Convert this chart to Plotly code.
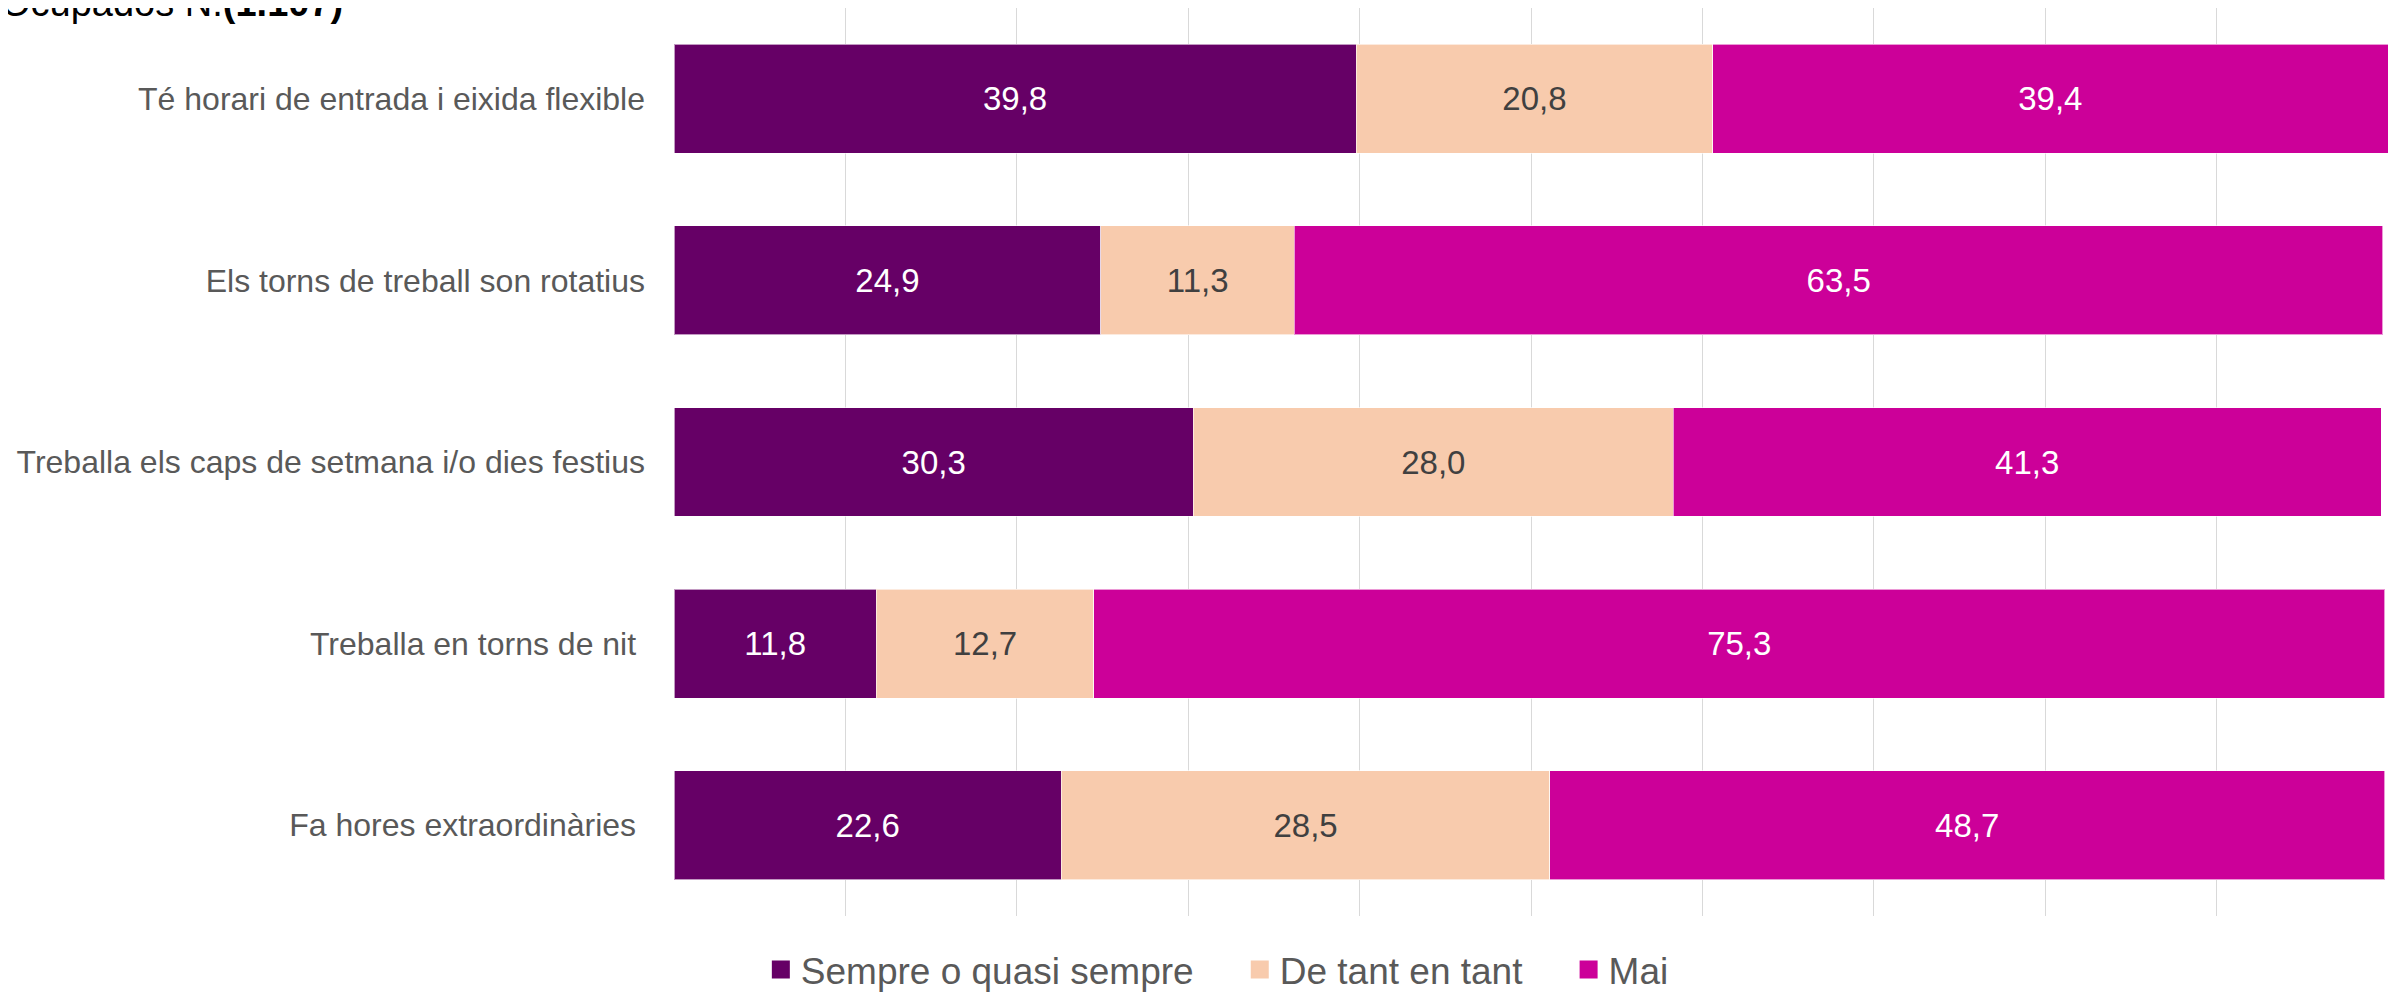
import plotly.graph_objects as go

categories = [
    "Té horari de entrada i eixida flexible",
    "Els torns de treball son rotatius",
    "Treballa els caps de setmana i/o dies festius",
    "Treballa en torns de nit\u00a0",
    "Fa hores extraordinàries\u00a0",
]
sempre = [39.8, 24.9, 30.3, 11.8, 22.6]
de_tant = [20.8, 11.3, 28.0, 12.7, 28.5]
mai = [39.4, 63.5, 41.3, 75.3, 48.7]

series = [
    ("Sempre o quasi sempre", sempre, "#660066", "white"),
    ("De tant en tant", de_tant, "#F8CBAD", "#404040"),
    ("Mai", mai, "#CC0099", "white"),
]

FONT = "Liberation Sans, Arial, sans-serif"
GAP = "\u00a0" * 4

fig = go.Figure()
for name, vals, color, txtcolor in series:
    fig.add_trace(
        go.Bar(
            y=categories,
            x=vals,
            name=name,
            orientation="h",
            showlegend=False,
            marker=dict(color=color, line=dict(color="rgba(255,255,255,0.6)", width=1)),
            text=[f"{v:.1f}".replace(".", ",") for v in vals],
            textposition="inside",
            insidetextanchor="middle",
            textangle=0,
            textfont=dict(color=txtcolor, size=33, family=FONT),
        )
    )

# legend entries with bigger square swatches
for i, (name, vals, color, txtcolor) in enumerate(series):
    fig.add_trace(
        go.Scatter(
            x=[None], y=[None],
            mode="markers",
            name=name + (GAP if i < len(series) - 1 else ""),
            marker=dict(symbol="square", size=16, color=color, line=dict(color=color, width=2)),
        )
    )

fig.add_annotation(
    text="Ocupados N.<b>(1.107)</b>",
    xref="paper", yref="paper",
    x=-0.394, y=1, xanchor="left", yanchor="bottom", yshift=-18,
    showarrow=False,
    font=dict(size=38, color="black", family=FONT),
)

fig.update_layout(
    width=2408,
    height=993,
    barmode="stack",
    bargap=0.4,
    plot_bgcolor="white",
    paper_bgcolor="white",
    font=dict(family=FONT, size=32, color="#595959"),
    margin=dict(l=666, r=28, t=0, b=84),
    showlegend=True,
    legend=dict(
        orientation="h",
        x=0.317, xanchor="center",
        y=-0.06, yanchor="middle",
        font=dict(size=37, color="#595959"),
        itemsizing="trace",
        traceorder="normal",
    ),
    xaxis=dict(
        range=[0, 100],
        dtick=10,
        showgrid=True,
        gridcolor="#D9D9D9",
        gridwidth=1,
        zeroline=False,
        showticklabels=False,
    ),
    yaxis=dict(
        autorange="reversed",
        showgrid=False,
        ticks="",
        ticklabelstandoff=28,
    ),
)

fig.write_html("out.html")
